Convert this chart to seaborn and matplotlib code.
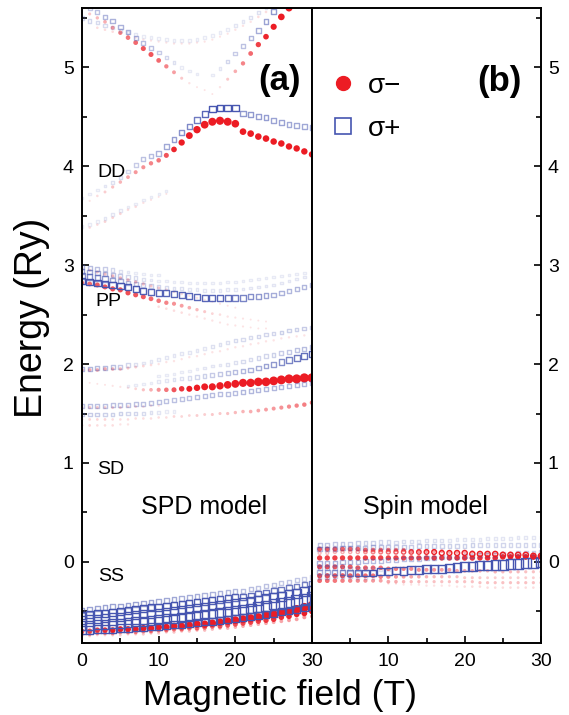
import numpy as np
import pandas as pd
import matplotlib
matplotlib.use('Agg')
import matplotlib.pyplot as plt
import seaborn as sns
from matplotlib.colors import to_rgba
from matplotlib.lines import Line2D
from matplotlib.ticker import MultipleLocator

sns.set_style('ticks')
plt.rcParams['font.family'] = ['Liberation Sans', 'DejaVu Sans']
plt.rcParams['text.color'] = 'black'
plt.rcParams['xtick.color'] = 'black'
plt.rcParams['ytick.color'] = 'black'

RED = '#ec1c24'
BLUE = '#4655b0'

field_a = list(range(0, 31))   # magnetic field (T), SPD model
field_b = list(range(1, 31))   # magnetic field (T), spin model

#%%
# Panel (a): energies (Ry) and relative strengths
# upper levels
up_red_fall_E = [5.59, 5.54, 5.50, 5.46, 5.40, 5.35, 5.30, 5.25, 5.19, 5.13,
                 5.07, 5.01, 4.95, 4.89, 4.84, 4.80, 4.77]
up_red_fall_w = [0.05, 0.08, 0.10, 0.12, 0.15, 0.18, 0.20, 0.22, 0.25, 0.25,
                 0.22, 0.18, 0.14, 0.08, 0.04, 0.02, 0.02]
up_blue_fall_E = [5.60, 5.56, 5.51, 5.47, 5.41, 5.36, 5.30, 5.25, 5.20, 5.15,
                  5.10, 5.05, 5.00, 4.96, 4.93]
up_blue_fall_w = [0.10, 0.12, 0.14, 0.15, 0.15, 0.15, 0.14, 0.13, 0.12, 0.10,
                  0.08, 0.06, 0.04, 0.03, 0.02]
up_blue_vee_E = [5.50, 5.47, 5.45, 5.42, 5.40, 5.37, 5.35, 5.33, 5.31, 5.30,
                 5.29, 5.28, 5.27, 5.27, 5.27, 5.28, 5.30, 5.32, 5.35, 5.38,
                 5.42, 5.46, 5.50, 5.55, 5.60]
up_blue_vee_w = [0.08, 0.08, 0.07, 0.07, 0.06, 0.06, 0.05, 0.05, 0.04, 0.04,
                 0.04, 0.04, 0.04, 0.04, 0.04, 0.04, 0.04, 0.04, 0.04, 0.04,
                 0.05, 0.05, 0.06, 0.06, 0.06]
up_red_vee_E = [5.40, 5.38, 5.36, 5.34, 5.32, 5.30, 5.28, 5.27, 5.26, 5.25,
                5.24, 5.24, 5.24, 5.25, 5.26, 5.28, 5.31, 5.34, 5.38, 5.42,
                5.46, 5.51, 5.56]
up_red_vee_w = [0.05, 0.05, 0.05, 0.04, 0.04, 0.04, 0.04, 0.03, 0.03, 0.03,
                0.03, 0.03, 0.03, 0.03, 0.03, 0.03, 0.03, 0.03, 0.04, 0.04,
                0.04, 0.05, 0.05]
up_red_rise_E = [4.73, 4.80, 4.88, 4.96, 5.04, 5.14, 5.23, 5.31, 5.41, 5.51, 5.60]
up_red_rise_w = [0.02, 0.04, 0.08, 0.12, 0.18, 0.22, 0.28, 0.32, 0.38, 0.45, 0.50]
up_blue_rise_E = [4.92, 4.99, 5.06, 5.14, 5.22, 5.30, 5.37, 5.46, 5.56, 5.65]
up_blue_rise_w = [0.03, 0.05, 0.08, 0.10, 0.12, 0.14, 0.16, 0.18, 0.20, 0.20]

# DD
dd_red_E = [3.60, 3.65, 3.70, 3.74, 3.79, 3.84, 3.89, 3.94, 3.99, 4.03,
            4.06, 4.11, 4.17, 4.24, 4.31, 4.37, 4.42, 4.45, 4.46, 4.45,
            4.43, 4.35, 4.33, 4.30, 4.28, 4.25, 4.23, 4.20, 4.18, 4.15, 4.12]
dd_red_w = [0.02, 0.03, 0.05, 0.07, 0.09, 0.11, 0.13, 0.15, 0.16, 0.18,
            0.20, 0.25, 0.32, 0.40, 0.48, 0.56, 0.62, 0.66, 0.68, 0.66,
            0.60, 0.45, 0.45, 0.44, 0.44, 0.43, 0.43, 0.42, 0.42, 0.42, 0.42]
dd_blue_E = [3.68, 3.72, 3.76, 3.80, 3.84, 3.89, 3.95, 4.01, 4.07, 4.10,
             4.13, 4.20, 4.27, 4.34, 4.40, 4.47, 4.53, 4.58, 4.59, 4.59,
             4.59, 4.53, 4.52, 4.50, 4.49, 4.46, 4.44, 4.42, 4.41, 4.40, 4.39]
dd_blue_w = [0.02, 0.03, 0.04, 0.05, 0.06, 0.07, 0.08, 0.10, 0.12, 0.13,
             0.15, 0.17, 0.19, 0.21, 0.23, 0.26, 0.30, 0.33, 0.35, 0.35,
             0.33, 0.20, 0.20, 0.19, 0.19, 0.18, 0.18, 0.17, 0.17, 0.17, 0.17]
dd_low_red_E = [3.36, 3.38, 3.41, 3.44, 3.48, 3.52, 3.56, 3.59, 3.63, 3.66, 3.69, 3.72]
dd_low_red_w = [0.04, 0.05, 0.05, 0.06, 0.06, 0.06, 0.05, 0.05, 0.04, 0.03, 0.02, 0.02]
dd_low_blue_E = [3.39, 3.41, 3.44, 3.47, 3.51, 3.55, 3.59, 3.62, 3.66, 3.69, 3.72, 3.75]
dd_low_blue_w = [0.03, 0.04, 0.04, 0.05, 0.05, 0.05, 0.04, 0.04, 0.03, 0.03, 0.02, 0.02]

# PP
pp_blue_1_E = [2.84, 2.83, 2.82, 2.81, 2.80, 2.79, 2.78, 2.76, 2.74, 2.73,
               2.72, 2.72, 2.71, 2.70, 2.69, 2.68, 2.67, 2.67, 2.67, 2.67,
               2.67, 2.67, 2.68, 2.68, 2.69, 2.70, 2.72, 2.74, 2.76, 2.78, 2.80]
pp_blue_1_w = [0.33, 0.33, 0.33, 0.33, 0.33, 0.33, 0.32, 0.32, 0.31, 0.30,
               0.30, 0.30, 0.30, 0.30, 0.30, 0.30, 0.30, 0.30, 0.30, 0.28,
               0.26, 0.24, 0.22, 0.20, 0.18, 0.16, 0.15, 0.14, 0.14, 0.14, 0.14]
pp_blue_2_E = [2.89, 2.88, 2.87, 2.86, 2.85, 2.84, 2.82, 2.81, 2.80, 2.79,
               2.78, 2.77, 2.76, 2.76, 2.75, 2.75, 2.74, 2.74, 2.74, 2.75,
               2.75, 2.76, 2.77, 2.78, 2.79, 2.80, 2.82, 2.84, 2.86, 2.88, 2.90]
pp_blue_2_w = [0.22, 0.22, 0.21, 0.20, 0.18, 0.16, 0.14, 0.12, 0.10, 0.09,
               0.08, 0.07, 0.06, 0.06, 0.05, 0.05, 0.05, 0.05, 0.05, 0.05,
               0.05, 0.05, 0.05, 0.05, 0.05, 0.05, 0.05, 0.05, 0.05, 0.05, 0.05]
pp_blue_3_E = [2.94, 2.93, 2.92, 2.91, 2.90, 2.89, 2.88, 2.87, 2.86, 2.85,
               2.84, 2.84, 2.83, 2.83, 2.82, 2.82, 2.82, 2.82, 2.82, 2.83,
               2.83, 2.84, 2.85, 2.86, 2.87, 2.88, 2.89, 2.90, 2.91, 2.92, 2.93]
pp_blue_3_w = [0.18, 0.17, 0.16, 0.14, 0.12, 0.10, 0.08, 0.07, 0.06, 0.05,
               0.04, 0.04, 0.04, 0.04, 0.04, 0.04, 0.04, 0.04, 0.04, 0.04,
               0.04, 0.04, 0.04, 0.04, 0.04, 0.04, 0.04, 0.04, 0.04, 0.04, 0.04]
pp_blue_4_E = [2.98, 2.97, 2.96, 2.96, 2.95, 2.94, 2.93, 2.92, 2.91, 2.90, 2.90]
pp_blue_4_w = [0.14, 0.13, 0.12, 0.10, 0.08, 0.06, 0.05, 0.04, 0.03, 0.03, 0.03]
pp_red_1_E = [2.82, 2.81, 2.80, 2.78, 2.76, 2.75, 2.72, 2.70, 2.68, 2.66,
              2.64, 2.62, 2.61, 2.59, 2.57, 2.55, 2.53, 2.51, 2.50, 2.48,
              2.47, 2.46, 2.45, 2.44, 2.43]
pp_red_1_w = [0.20, 0.22, 0.24, 0.25, 0.26, 0.26, 0.26, 0.25, 0.24, 0.22,
              0.20, 0.18, 0.16, 0.14, 0.12, 0.10, 0.08, 0.06, 0.05, 0.04,
              0.03, 0.03, 0.02, 0.02, 0.02]
pp_red_2_E = [2.97, 2.95, 2.93, 2.91, 2.89, 2.87, 2.85, 2.83, 2.81, 2.79,
              2.77, 2.75, 2.73, 2.71, 2.69, 2.67, 2.65, 2.63, 2.61, 2.59, 2.57]
pp_red_2_w = [0.06, 0.07, 0.08, 0.09, 0.10, 0.10, 0.10, 0.10, 0.09, 0.08,
              0.07, 0.06, 0.05, 0.05, 0.04, 0.04, 0.03, 0.03, 0.03, 0.02, 0.02]
pp_red_3_E = [2.58, 2.56, 2.54, 2.52, 2.50, 2.48, 2.46, 2.44, 2.42, 2.40,
              2.39, 2.38, 2.37, 2.36, 2.36]
pp_red_3_w = [0.05, 0.05, 0.05, 0.05, 0.04, 0.04, 0.04, 0.04, 0.03, 0.03,
              0.03, 0.03, 0.02, 0.02, 0.02]

# levels between 1.3 and 2.4 Ry
mid_top_blue_E = [1.95, 1.95, 1.96, 1.96, 1.97, 1.97, 1.99, 2.00, 2.01, 2.03,
                  2.05, 2.07, 2.09, 2.11, 2.12, 2.14, 2.16, 2.18, 2.20, 2.22,
                  2.24, 2.25, 2.27, 2.28, 2.30, 2.31, 2.32, 2.34, 2.35, 2.36, 2.37]
mid_top_blue_w = [0.14, 0.14, 0.13, 0.13, 0.12, 0.10, 0.08, 0.06, 0.05, 0.05,
                  0.05, 0.05, 0.05, 0.05, 0.05, 0.05, 0.05, 0.06, 0.06, 0.06,
                  0.07, 0.07, 0.07, 0.08, 0.08, 0.08, 0.09, 0.09, 0.09, 0.10, 0.10]
mid_top_red_E = [1.94, 1.94, 1.94, 1.95, 1.95, 1.95, 1.96, 1.97, 1.98, 1.99,
                 2.00, 2.02, 2.03, 2.05, 2.07, 2.08, 2.10, 2.12, 2.13, 2.15,
                 2.17, 2.18, 2.20, 2.21, 2.23, 2.24, 2.26, 2.27, 2.28, 2.29, 2.30]
mid_top_red_w = [0.12, 0.12, 0.12, 0.12, 0.11, 0.10, 0.08, 0.07, 0.06, 0.05,
                 0.04, 0.04, 0.04, 0.04, 0.04, 0.04, 0.04, 0.04, 0.04, 0.04,
                 0.04, 0.04, 0.04, 0.04, 0.04, 0.04, 0.04, 0.04, 0.04, 0.04, 0.04]
mid_blue_up_E = [1.78, 1.79, 1.80, 1.81,
                 1.82, 1.83, 1.84, 1.85, 1.86, 1.87, 1.88, 1.89, 1.90, 1.91,
                 1.92, 1.93, 1.94, 1.96, 1.98, 2.00, 2.02, 2.04, 2.06, 2.08, 2.10]
mid_blue_up_w = [0.03, 0.03, 0.04, 0.04,
                 0.05, 0.05, 0.06, 0.06, 0.07, 0.08, 0.09, 0.10, 0.11, 0.12,
                 0.13, 0.14, 0.15, 0.16, 0.18, 0.20, 0.22, 0.24, 0.26, 0.28, 0.30]
mid_blue_up2_E = [1.88, 1.89, 1.90, 1.92, 1.93, 1.95, 1.96, 1.98, 1.99, 2.00,
                  2.02, 2.03, 2.05, 2.06, 2.08, 2.09, 2.11, 2.12, 2.14, 2.15, 2.17]
mid_blue_up2_w = [0.03, 0.03, 0.03, 0.04, 0.04, 0.04, 0.05, 0.05, 0.05, 0.06,
                  0.06, 0.07, 0.07, 0.08, 0.08, 0.09, 0.10, 0.11, 0.12, 0.13, 0.14]
mid_red_big_E = [1.82, 1.81, 1.80, 1.79, 1.78, 1.77, 1.76, 1.75, 1.74, 1.74,
                 1.74, 1.74, 1.74, 1.75, 1.75, 1.76, 1.77, 1.77, 1.78, 1.79,
                 1.80, 1.81, 1.81, 1.82, 1.82, 1.83, 1.84, 1.85, 1.85, 1.86, 1.86]
mid_red_big_w = [0.02, 0.02, 0.02, 0.02, 0.03, 0.03, 0.04, 0.06, 0.09, 0.12,
                 0.16, 0.20, 0.25, 0.30, 0.36, 0.42, 0.48, 0.52, 0.56, 0.60,
                 0.64, 0.68, 0.72, 0.75, 0.78, 0.80, 0.82, 0.84, 0.86, 0.87, 0.88]
mid_blue_low_E = [1.58, 1.58, 1.58, 1.58, 1.59, 1.59, 1.59, 1.60, 1.60, 1.61,
                  1.62, 1.63, 1.64, 1.65, 1.66, 1.67, 1.68, 1.69, 1.70, 1.70,
                  1.71, 1.72, 1.73, 1.74, 1.75, 1.76, 1.77, 1.78, 1.79, 1.80, 1.81]
mid_blue_low_w = [0.12, 0.12, 0.12, 0.12, 0.12, 0.12, 0.12, 0.12, 0.12, 0.12,
                  0.12, 0.12, 0.12, 0.12, 0.12, 0.13, 0.13, 0.13, 0.13, 0.13,
                  0.13, 0.14, 0.14, 0.14, 0.14, 0.14, 0.14, 0.14, 0.14, 0.14, 0.14]
mid_red_low2_E = [1.56, 1.56, 1.56, 1.56, 1.56, 1.56, 1.57, 1.57, 1.57, 1.58, 1.58]
mid_red_low2_w = [0.08, 0.08, 0.08, 0.07, 0.07, 0.07, 0.06, 0.06, 0.05, 0.05, 0.04]
mid_red_low_E = [1.44, 1.44, 1.44, 1.44, 1.44, 1.44, 1.44, 1.45, 1.45, 1.45,
                 1.46, 1.46, 1.47, 1.47, 1.48, 1.48, 1.49, 1.49, 1.50, 1.50,
                 1.51, 1.52, 1.52, 1.53, 1.54, 1.55, 1.56, 1.57, 1.58, 1.59, 1.61]
mid_red_low_w = [0.06, 0.06, 0.06, 0.06, 0.05, 0.05, 0.05, 0.05, 0.05, 0.05,
                 0.05, 0.05, 0.06, 0.06, 0.06, 0.07, 0.07, 0.08, 0.08, 0.09,
                 0.10, 0.11, 0.12, 0.13, 0.14, 0.15, 0.16, 0.17, 0.18, 0.19, 0.20]
mid_blue_low2_E = [1.49, 1.49, 1.49, 1.49, 1.49, 1.50, 1.50, 1.50, 1.50, 1.51, 1.51, 1.52, 1.52]
mid_blue_low2_w = [0.10, 0.10, 0.10, 0.09, 0.09, 0.09, 0.08, 0.08, 0.07, 0.06, 0.05, 0.04, 0.03]
mid_red_bottom_E = [1.38, 1.38, 1.38, 1.38, 1.38, 1.39, 1.39]
mid_red_bottom_w = [0.06, 0.06, 0.05, 0.05, 0.05, 0.04, 0.04]

# SS
ss_blue_1_E = [-0.49, -0.48, -0.47, -0.46, -0.45, -0.45, -0.44, -0.43, -0.42, -0.41,
               -0.40, -0.39, -0.38, -0.37, -0.36, -0.35, -0.34, -0.33, -0.32, -0.31,
               -0.30, -0.29, -0.27, -0.26, -0.24, -0.23, -0.21, -0.20, -0.18, -0.17, -0.15]
ss_blue_1_w = [0.18, 0.18, 0.18, 0.18, 0.18, 0.18, 0.18, 0.18, 0.18, 0.18,
               0.17, 0.17, 0.17, 0.16, 0.16, 0.16, 0.15, 0.15, 0.15, 0.14,
               0.14, 0.13, 0.13, 0.12, 0.12, 0.12, 0.11, 0.11, 0.11, 0.10, 0.10]
ss_blue_2_E = [-0.54, -0.53, -0.52, -0.52, -0.51, -0.50, -0.49, -0.48, -0.47, -0.46,
               -0.46, -0.45, -0.44, -0.43, -0.42, -0.41, -0.40, -0.39, -0.38, -0.37,
               -0.36, -0.35, -0.34, -0.32, -0.31, -0.29, -0.28, -0.26, -0.25, -0.23, -0.22]
ss_blue_2_w = [0.35, 0.35, 0.35, 0.35, 0.35, 0.35, 0.35, 0.34, 0.34, 0.34,
               0.33, 0.33, 0.33, 0.32, 0.32, 0.32, 0.31, 0.31, 0.30, 0.30,
               0.29, 0.29, 0.28, 0.28, 0.27, 0.27, 0.26, 0.26, 0.25, 0.25, 0.25]
ss_blue_3_E = [-0.59, -0.58, -0.58, -0.57, -0.56, -0.56, -0.55, -0.54, -0.53, -0.53,
               -0.52, -0.51, -0.50, -0.49, -0.48, -0.47, -0.46, -0.45, -0.44, -0.43,
               -0.42, -0.41, -0.40, -0.39, -0.37, -0.36, -0.35, -0.33, -0.32, -0.30, -0.29]
ss_blue_3_w = [0.50, 0.50, 0.50, 0.50, 0.50, 0.50, 0.50, 0.50, 0.51, 0.51,
               0.51, 0.52, 0.52, 0.52, 0.53, 0.53, 0.53, 0.54, 0.54, 0.55,
               0.55, 0.56, 0.56, 0.57, 0.58, 0.58, 0.59, 0.60, 0.60, 0.61, 0.62]
ss_blue_4_E = [-0.64, -0.64, -0.63, -0.63, -0.62, -0.62, -0.61, -0.60, -0.60, -0.59,
               -0.58, -0.57, -0.57, -0.56, -0.55, -0.54, -0.53, -0.52, -0.51, -0.50,
               -0.49, -0.48, -0.47, -0.46, -0.45, -0.43, -0.42, -0.41, -0.39, -0.38, -0.36]
ss_blue_4_w = [0.62, 0.62, 0.63, 0.63, 0.64, 0.64, 0.65, 0.65, 0.66, 0.66,
               0.67, 0.68, 0.69, 0.70, 0.71, 0.72, 0.73, 0.74, 0.75, 0.76,
               0.77, 0.78, 0.79, 0.80, 0.82, 0.84, 0.86, 0.88, 0.90, 0.92, 0.94]
ss_blue_5_E = [-0.69, -0.69, -0.68, -0.68, -0.68, -0.67, -0.67, -0.66, -0.66, -0.65,
               -0.65, -0.64, -0.63, -0.63, -0.62, -0.61, -0.60, -0.60, -0.59, -0.58,
               -0.57, -0.56, -0.55, -0.54, -0.53, -0.52, -0.50, -0.49, -0.48, -0.46, -0.45]
ss_blue_5_w = [0.45, 0.45, 0.45, 0.45, 0.45, 0.45, 0.44, 0.44, 0.44, 0.44,
               0.43, 0.43, 0.43, 0.42, 0.42, 0.42, 0.41, 0.41, 0.40, 0.40,
               0.40, 0.39, 0.39, 0.38, 0.38, 0.37, 0.37, 0.36, 0.36, 0.35, 0.35]
ss_red_1_E = [-0.70, -0.70, -0.69, -0.69, -0.69, -0.68, -0.68, -0.68, -0.67, -0.67,
              -0.66, -0.66, -0.65, -0.65, -0.64, -0.63, -0.63, -0.62, -0.61, -0.60,
              -0.59, -0.58, -0.57, -0.56, -0.54, -0.53, -0.51, -0.50, -0.48, -0.46, -0.44]
ss_red_1_w = [0.25, 0.27, 0.29, 0.31, 0.33, 0.35, 0.37, 0.39, 0.41, 0.43,
              0.45, 0.47, 0.49, 0.51, 0.53, 0.55, 0.57, 0.59, 0.61, 0.63,
              0.65, 0.67, 0.69, 0.71, 0.73, 0.75, 0.77, 0.79, 0.81, 0.83, 0.85]
ss_red_2_E = [-0.73, -0.73, -0.72, -0.72, -0.72, -0.71, -0.71, -0.71, -0.70, -0.70,
              -0.69, -0.69, -0.68, -0.68, -0.67, -0.67, -0.66, -0.65, -0.65, -0.64,
              -0.63, -0.62, -0.61, -0.60, -0.59, -0.58, -0.56, -0.55, -0.53, -0.52, -0.50]
ss_red_2_w = [0.15, 0.15, 0.16, 0.16, 0.17, 0.17, 0.18, 0.18, 0.19, 0.19,
              0.20, 0.20, 0.21, 0.21, 0.22, 0.22, 0.23, 0.23, 0.24, 0.24,
              0.25, 0.26, 0.27, 0.28, 0.29, 0.30, 0.31, 0.32, 0.33, 0.34, 0.35]
ss_red_3_E = [-0.75, -0.75, -0.74, -0.74, -0.74, -0.74, -0.73, -0.73, -0.73, -0.72,
              -0.72, -0.71, -0.71, -0.70, -0.70, -0.69, -0.69, -0.68, -0.67, -0.67,
              -0.66, -0.65, -0.64, -0.63, -0.62, -0.61, -0.60, -0.59, -0.58, -0.56, -0.55]
ss_red_3_w = [0.06, 0.06, 0.06, 0.06, 0.07, 0.07, 0.07, 0.07, 0.08, 0.08,
              0.08, 0.08, 0.09, 0.09, 0.09, 0.10, 0.10, 0.10, 0.11, 0.11,
              0.11, 0.12, 0.12, 0.12, 0.13, 0.13, 0.13, 0.14, 0.14, 0.15, 0.15]

#%%
# Panel (b): spin model
pb_blue_top_E = [0.17, 0.17, 0.18, 0.18, 0.18, 0.19, 0.19, 0.19, 0.20, 0.20,
                 0.20, 0.21, 0.21, 0.21, 0.22, 0.22, 0.22, 0.22, 0.23, 0.23,
                 0.23, 0.23, 0.24, 0.24, 0.24, 0.24, 0.25, 0.25, 0.25, 0.25]
pb_blue_top_w = [0.12, 0.12, 0.11, 0.11, 0.10, 0.10, 0.09, 0.09, 0.08, 0.08,
                 0.07, 0.07, 0.07, 0.06, 0.06, 0.06, 0.06, 0.05, 0.05, 0.05,
                 0.05, 0.05, 0.05, 0.05, 0.05, 0.05, 0.05, 0.05, 0.05, 0.05]
pb_blue_2_E = [0.13, 0.13, 0.13, 0.14, 0.14, 0.14, 0.14, 0.15, 0.15, 0.15,
               0.15, 0.15, 0.15, 0.16, 0.16, 0.16, 0.16, 0.16, 0.16, 0.16,
               0.17, 0.17, 0.17, 0.17, 0.17, 0.17, 0.17, 0.17, 0.17, 0.17]
pb_blue_2_w = [0.14, 0.14, 0.14, 0.13, 0.13, 0.13, 0.12, 0.12, 0.12, 0.11,
               0.11, 0.11, 0.10, 0.10, 0.10, 0.10, 0.09, 0.09, 0.09, 0.09,
               0.09, 0.08, 0.08, 0.08, 0.08, 0.08, 0.08, 0.08, 0.08, 0.08]
pb_blue_3_E = [-0.01, -0.01, -0.01, 0.00, 0.00, 0.00, 0.01, 0.01, 0.01, 0.02,
               0.02, 0.03, 0.03, 0.03, 0.04, 0.04, 0.05, 0.05, 0.05, 0.06,
               0.06, 0.07, 0.07, 0.07, 0.08, 0.08, 0.09, 0.09, 0.09, 0.10]
pb_blue_3_w = [0.15, 0.15, 0.15, 0.14, 0.14, 0.14, 0.14, 0.13, 0.13, 0.13,
               0.13, 0.12, 0.12, 0.12, 0.12, 0.12, 0.11, 0.11, 0.11, 0.11,
               0.11, 0.10, 0.10, 0.10, 0.10, 0.10, 0.10, 0.10, 0.10, 0.10]
pb_blue_big_E = [-0.10, -0.10, -0.11, -0.11, -0.11, -0.11, -0.11, -0.11, -0.10, -0.10,
                 -0.09, -0.09, -0.08, -0.08, -0.07, -0.07, -0.07, -0.06, -0.06, -0.05,
                 -0.05, -0.04, -0.04, -0.03, -0.03, -0.02, -0.02, -0.01, -0.01, 0.00]
pb_blue_big_w = [0.14, 0.16, 0.19, 0.22, 0.25, 0.28, 0.31, 0.34, 0.37, 0.40,
                 0.43, 0.46, 0.49, 0.52, 0.55, 0.57, 0.59, 0.61, 0.63, 0.65,
                 0.67, 0.69, 0.71, 0.73, 0.75, 0.77, 0.79, 0.81, 0.83, 0.85]
pb_blue_4_E = [-0.06, -0.06, -0.06, -0.06, -0.07, -0.07, -0.07, -0.07, -0.08, -0.08]
pb_blue_4_w = [0.12, 0.12, 0.11, 0.11, 0.10, 0.09, 0.08, 0.07, 0.06, 0.05]
pb_blue_5_E = [-0.15, -0.15, -0.15, -0.15, -0.15, -0.16, -0.16, -0.16]
pb_blue_5_w = [0.10, 0.10, 0.09, 0.09, 0.08, 0.07, 0.06, 0.05]
pb_red_1_E = [0.13, 0.13, 0.13, 0.13, 0.13, 0.13, 0.12, 0.12, 0.12, 0.12,
              0.12, 0.12, 0.11, 0.11, 0.11, 0.11, 0.11, 0.10, 0.10, 0.10,
              0.10, 0.09, 0.09, 0.09, 0.09, 0.09, 0.08, 0.08, 0.08, 0.08]
pb_red_1_w = [0.24, 0.24, 0.24, 0.23, 0.23, 0.22, 0.22, 0.21, 0.21, 0.20,
              0.19, 0.18, 0.17, 0.16, 0.15, 0.14, 0.14, 0.13, 0.13, 0.12,
              0.12, 0.12, 0.11, 0.11, 0.11, 0.10, 0.10, 0.10, 0.10, 0.10]
pb_red_circ_E = [0.09, 0.09, 0.10, 0.10, 0.10, 0.10, 0.10, 0.10, 0.10, 0.10,
                 0.10, 0.10, 0.10, 0.10, 0.10, 0.10, 0.09, 0.09, 0.09, 0.09,
                 0.08, 0.08, 0.08, 0.08, 0.07, 0.07, 0.07, 0.07, 0.06, 0.06]
pb_red_circ_w = [0.10, 0.10, 0.11, 0.12, 0.13, 0.14, 0.16, 0.18, 0.20, 0.22,
                 0.24, 0.26, 0.28, 0.30, 0.32, 0.34, 0.36, 0.38, 0.39, 0.40,
                 0.41, 0.42, 0.43, 0.43, 0.44, 0.44, 0.45, 0.45, 0.45, 0.45]
pb_red_2_E = [0.04, 0.04, 0.04, 0.04, 0.04, 0.04, 0.04, 0.04, 0.04, 0.04,
              0.04, 0.04, 0.04, 0.04, 0.04, 0.04, 0.04, 0.04, 0.04, 0.04,
              0.04, 0.04, 0.04, 0.04, 0.05, 0.05, 0.05, 0.05, 0.05, 0.05]
pb_red_2_w = [0.28, 0.28, 0.28, 0.28, 0.28, 0.28, 0.28, 0.28, 0.28, 0.28,
              0.28, 0.28, 0.28, 0.28, 0.29, 0.29, 0.29, 0.29, 0.30, 0.30,
              0.30, 0.30, 0.31, 0.31, 0.31, 0.32, 0.32, 0.33, 0.33, 0.33]
pb_red_3_E = [-0.05, -0.05, -0.05, -0.05, -0.05, -0.06, -0.06, -0.06, -0.06, -0.07,
              -0.07, -0.07, -0.07, -0.08, -0.08, -0.08, -0.08, -0.08, -0.09, -0.09,
              -0.09, -0.09, -0.09, -0.10, -0.10, -0.10, -0.10, -0.10, -0.10, -0.10]
pb_red_3_w = [0.26, 0.26, 0.25, 0.25, 0.24, 0.24, 0.23, 0.22, 0.21, 0.20,
              0.19, 0.18, 0.17, 0.16, 0.15, 0.15, 0.14, 0.14, 0.13, 0.13,
              0.12, 0.12, 0.11, 0.11, 0.10, 0.10, 0.10, 0.09, 0.09, 0.09]
pb_red_4_E = [-0.14, -0.14, -0.14, -0.14, -0.14, -0.14, -0.14, -0.14, -0.15, -0.15,
              -0.15, -0.15, -0.15, -0.15, -0.15, -0.15, -0.15, -0.15, -0.15, -0.16,
              -0.16, -0.16, -0.16, -0.16, -0.16, -0.16, -0.16, -0.16, -0.16, -0.16]
pb_red_4_w = [0.26, 0.26, 0.25, 0.25, 0.24, 0.23, 0.22, 0.21, 0.19, 0.17,
              0.15, 0.14, 0.13, 0.12, 0.11, 0.10, 0.10, 0.09, 0.09, 0.08,
              0.08, 0.08, 0.07, 0.07, 0.07, 0.07, 0.07, 0.07, 0.07, 0.07]
pb_red_5_E = [-0.19, -0.19, -0.19, -0.19, -0.19, -0.19, -0.19, -0.19, -0.19, -0.20,
              -0.20, -0.20, -0.20, -0.20, -0.20, -0.20, -0.20, -0.20, -0.20, -0.20,
              -0.20, -0.21, -0.21, -0.21, -0.21, -0.21, -0.21, -0.21, -0.21, -0.21]
pb_red_5_w = [0.22, 0.21, 0.20, 0.19, 0.18, 0.17, 0.16, 0.15, 0.14, 0.13,
              0.12, 0.11, 0.10, 0.10, 0.09, 0.09, 0.09, 0.09, 0.09, 0.09,
              0.09, 0.09, 0.09, 0.09, 0.09, 0.09, 0.09, 0.09, 0.09, 0.09]
pb_red_6_E = [-0.22, -0.22, -0.23, -0.23, -0.23, -0.24, -0.24, -0.24, -0.24, -0.25,
              -0.25, -0.25, -0.25, -0.26, -0.26, -0.26, -0.26, -0.26, -0.26, -0.26, -0.26]
pb_red_6_w = [0.03, 0.03, 0.03, 0.03, 0.04, 0.04, 0.04, 0.04, 0.04, 0.04,
              0.05, 0.05, 0.05, 0.05, 0.05, 0.05, 0.05, 0.05, 0.05, 0.05, 0.05]

#%%
# (panel, kind, first field value, energies, strengths)
branches = [
    ('a', 'minus', 0, up_red_fall_E, up_red_fall_w),
    ('a', 'minus', 2, up_red_vee_E, up_red_vee_w),
    ('a', 'minus', 17, up_red_rise_E, up_red_rise_w),
    ('a', 'minus', 0, dd_red_E, dd_red_w),
    ('a', 'minus', 0, dd_low_red_E, dd_low_red_w),
    ('a', 'minus', 0, pp_red_1_E, pp_red_1_w),
    ('a', 'minus', 0, pp_red_2_E, pp_red_2_w),
    ('a', 'minus', 10, pp_red_3_E, pp_red_3_w),
    ('a', 'minus', 0, mid_top_red_E, mid_top_red_w),
    ('a', 'minus', 0, mid_red_big_E, mid_red_big_w),
    ('a', 'minus', 0, mid_red_low2_E, mid_red_low2_w),
    ('a', 'minus', 0, mid_red_low_E, mid_red_low_w),
    ('a', 'minus', 0, mid_red_bottom_E, mid_red_bottom_w),
    ('a', 'minus', 0, ss_red_3_E, ss_red_3_w),
    ('a', 'minus', 0, ss_red_2_E, ss_red_2_w),
    ('a', 'minus', 0, ss_red_1_E, ss_red_1_w),
    ('a', 'plus', 1, up_blue_fall_E, up_blue_fall_w),
    ('a', 'plus', 0, up_blue_vee_E, up_blue_vee_w),
    ('a', 'plus', 17, up_blue_rise_E, up_blue_rise_w),
    ('a', 'plus', 0, dd_blue_E, dd_blue_w),
    ('a', 'plus', 0, dd_low_blue_E, dd_low_blue_w),
    ('a', 'plus', 0, pp_blue_4_E, pp_blue_4_w),
    ('a', 'plus', 0, pp_blue_3_E, pp_blue_3_w),
    ('a', 'plus', 0, pp_blue_2_E, pp_blue_2_w),
    ('a', 'plus', 0, pp_blue_1_E, pp_blue_1_w),
    ('a', 'plus', 0, mid_top_blue_E, mid_top_blue_w),
    ('a', 'plus', 10, mid_blue_up2_E, mid_blue_up2_w),
    ('a', 'plus', 6, mid_blue_up_E, mid_blue_up_w),
    ('a', 'plus', 0, mid_blue_low_E, mid_blue_low_w),
    ('a', 'plus', 0, mid_blue_low2_E, mid_blue_low2_w),
    ('a', 'plus', 0, ss_blue_1_E, ss_blue_1_w),
    ('a', 'plus', 0, ss_blue_2_E, ss_blue_2_w),
    ('a', 'plus', 0, ss_blue_3_E, ss_blue_3_w),
    ('a', 'plus', 0, ss_blue_5_E, ss_blue_5_w),
    ('a', 'plus', 0, ss_blue_4_E, ss_blue_4_w),
    ('b', 'minus', 1, pb_red_1_E, pb_red_1_w),
    ('b', 'minus', 1, pb_red_2_E, pb_red_2_w),
    ('b', 'minus', 1, pb_red_3_E, pb_red_3_w),
    ('b', 'minus', 1, pb_red_4_E, pb_red_4_w),
    ('b', 'minus', 1, pb_red_5_E, pb_red_5_w),
    ('b', 'minus', 10, pb_red_6_E, pb_red_6_w),
    ('b', 'plus', 1, pb_blue_top_E, pb_blue_top_w),
    ('b', 'plus', 1, pb_blue_2_E, pb_blue_2_w),
    ('b', 'plus', 1, pb_blue_3_E, pb_blue_3_w),
    ('b', 'plus', 1, pb_blue_4_E, pb_blue_4_w),
    ('b', 'plus', 1, pb_blue_5_E, pb_blue_5_w),
    ('b', 'plus', 1, pb_blue_big_E, pb_blue_big_w),
    ('b', 'ring', 1, pb_red_circ_E, pb_red_circ_w),
]

frames = []
for panel, kind, first, energy, strength in branches:
    grid = field_a if panel == 'a' else field_b
    i0 = grid.index(first)
    frames.append(pd.DataFrame({'panel': panel, 'kind': kind,
                                'field': grid[i0:i0 + len(energy)],
                                'energy': energy, 'strength': strength}))
levels = pd.concat(frames, ignore_index=True)

#%%
fig = plt.figure(figsize=(5.69, 7.15), dpi=100)
ax_a = fig.add_axes([82 / 569, 1 - 643 / 715, 230 / 569, 635 / 715])
ax_b = fig.add_axes([312 / 569, 1 - 643 / 715, 229 / 569, 635 / 715])

styles = {'minus': ('o', RED, True, 50),
          'plus': ('s', BLUE, False, 62),
          'ring': ('o', RED, False, 32)}

for ax, panel in [(ax_a, 'a'), (ax_b, 'b')]:
    for kind in ['minus', 'plus', 'ring']:
        df = levels[(levels['panel'] == panel) & (levels['kind'] == kind)]
        if df.empty:
            continue
        marker, color, filled, smax = styles[kind]
        sns.scatterplot(data=df, x='field', y='energy', size='strength',
                        sizes=(1, smax), size_norm=(0, 1), marker=marker,
                        color=color, linewidth=0, legend=False, ax=ax)
        pts = ax.collections[-1]
        rgba = np.tile(to_rgba(color), (len(df), 1))
        # weak transitions are drawn pale, as in the figure
        rgba[:, 3] = np.clip(3.0 * df['strength'].to_numpy(), 0.12, 1.0)
        if filled:
            pts.set_facecolors(rgba)
            pts.set_edgecolors('none')
        else:
            pts.set_facecolors('none')
            pts.set_edgecolors(rgba)
            pts.set_linewidths(1.0)

for ax in (ax_a, ax_b):
    ax.set_xlim(0, 30)
    ax.set_ylim(-0.82, 5.6)
    ax.set_xlabel('')
    ax.set_ylabel('')
    ax.xaxis.set_minor_locator(MultipleLocator(5))
    ax.yaxis.set_major_locator(MultipleLocator(1))
    ax.yaxis.set_minor_locator(MultipleLocator(0.5))
    ax.tick_params(which='both', direction='in', width=1.2, top=False,
                   labelsize=14, colors='black')
    ax.tick_params(which='major', length=5)
    ax.tick_params(which='minor', length=3.5)
    ax.tick_params(axis='x', pad=7)
    for sp in ax.spines.values():
        sp.set_color('black')
        sp.set_linewidth(1.4)

ax_a.set_xticks([0, 10, 20, 30])
ax_a.tick_params(axis='y', which='both', left=True, right=False, pad=6)
ax_b.set_xticks([0, 10, 20, 30])
ax_b.set_xticklabels(['', '10', '20', '30'])
ax_b.tick_params(axis='y', which='both', left=False, right=True,
                 labelleft=False, labelright=True, pad=5)

# labels inside the panels
ax_a.text(3.9, 3.94, 'DD', fontsize=14, ha='center', va='center')
ax_a.text(3.5, 2.63, 'PP', fontsize=14, ha='center', va='center')
ax_a.text(3.8, 0.93, 'SD', fontsize=14, ha='center', va='center')
ax_a.text(3.8, -0.15, 'SS', fontsize=14, ha='center', va='center')
ax_a.text(15.9, 0.56, 'SPD model', fontsize=18, ha='center', va='center')
ax_b.text(14.9, 0.56, 'Spin model', fontsize=18, ha='center', va='center')
ax_a.text(25.7, 4.87, '(a)', fontsize=25, fontweight='bold', ha='center', va='center')
ax_b.text(24.5, 4.86, '(b)', fontsize=25, fontweight='bold', ha='center', va='center')

handles = [Line2D([], [], ls='none', marker='o', color=RED, markersize=10),
           Line2D([], [], ls='none', marker='s', markerfacecolor='none',
                  markeredgecolor=BLUE, markeredgewidth=1.2, markersize=11)]
ax_b.legend(handles, ['σ−', 'σ+'], loc='upper left', bbox_to_anchor=(0.074, 0.898),
            frameon=False, fontsize=20, handlelength=1.0, handletextpad=0.4,
            labelspacing=0.62, borderaxespad=0, borderpad=0)

fig.text(32 / 569, 1 - 318 / 715, 'Energy (Ry)', rotation=90, fontsize=27,
         ha='center', va='center')
fig.text(280 / 569, 1 - 705 / 715, 'Magnetic field (T)', fontsize=25.5,
         ha='center', va='baseline')

fig.savefig('out.png', dpi=100)
